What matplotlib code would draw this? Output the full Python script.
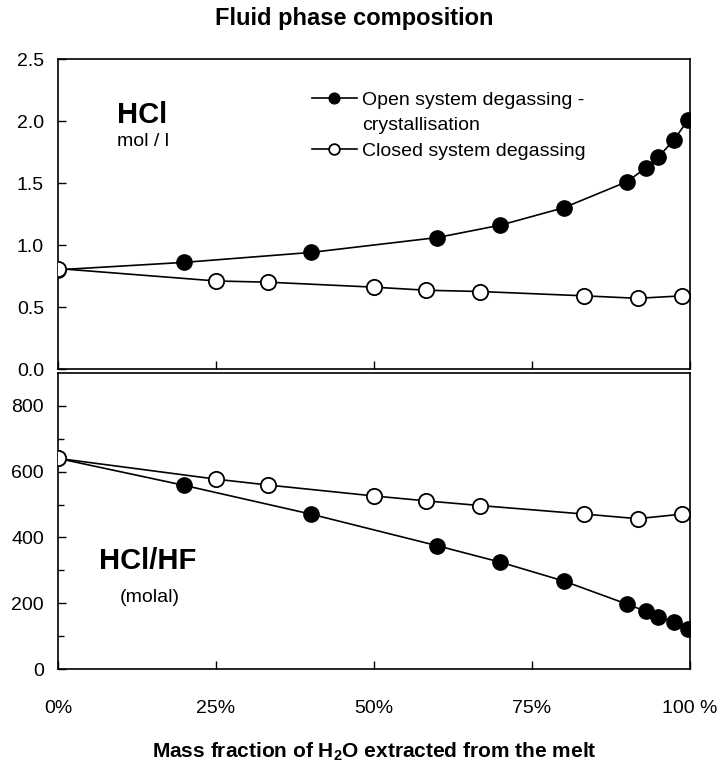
import numpy as np
import matplotlib
matplotlib.use('Agg')
import matplotlib.pyplot as plt
from matplotlib.lines import Line2D

plt.rcParams['font.family'] = ['Liberation Sans', 'DejaVu Sans']
plt.rcParams['mathtext.fontset'] = 'custom'
plt.rcParams['mathtext.rm'] = 'Liberation Sans'
plt.rcParams['mathtext.bf'] = 'Liberation Sans:bold'

# open system degassing - crystallisation (filled circles)
x_open = [0, 20, 40, 60, 70, 80, 90, 93, 95, 97.5, 99.7]
hcl_open = [0.80, 0.86, 0.94, 1.06, 1.16, 1.30, 1.51, 1.62, 1.71, 1.85, 2.01]
ratio_open = [640, 558, 471, 375, 325, 268, 198, 176, 160, 143, 121]

# closed system degassing (open circles)
x_closed = [0, 25, 33.3, 50, 58.3, 66.7, 83.3, 91.7, 98.8]
hcl_closed = [0.81, 0.71, 0.70, 0.66, 0.635, 0.625, 0.59, 0.57, 0.59]
ratio_closed = [640, 577, 559, 526, 511, 497, 471, 457, 471]

xticks = [0, 25, 50, 75, 100]
xticklabels = ['0%', '25%', '50%', '75%', '100 %']

W, H = 722, 770
fig = plt.figure(figsize=(W / 100, H / 100), dpi=100)
left, right = 58 / W, 690 / W
ax1 = fig.add_axes([left, 1 - 369 / H, right - left, (369 - 59) / H])
ax2 = fig.add_axes([left, 1 - 669.3 / H, right - left, (669.3 - 372.7) / H])

def px(x, y):
    return x / W, 1 - y / H

ms = 11
handles = []
for ax, yo, yc in [(ax1, hcl_open, hcl_closed), (ax2, ratio_open, ratio_closed)]:
    h1, = ax.plot(x_open, yo, '-o', color='black', lw=1.2, ms=ms, mfc='black', mec='black',
                  zorder=3)
    h2, = ax.plot(x_closed, yc, '-o', color='black', lw=1.2, ms=ms, mfc='white', mec='black',
                  mew=1.3, zorder=4)
    handles.append((h1, h2))
    ax.set_xlim(0, 100)
    ax.set_xticks(xticks)
    ax.tick_params(direction='in', length=6, width=1, labelsize=14)
    ax.tick_params(axis='x', which='both', top=False)
    ax.tick_params(axis='y', pad=10)
    for s in ax.spines.values():
        s.set_linewidth(1.2)

ax1.set_ylim(0, 2.5)
ax1.set_yticks(np.arange(0, 2.51, 0.5))
ax1.set_yticklabels(['%.1f' % v for v in np.arange(0, 2.51, 0.5)])
ax1.set_xticklabels([])

ax2.set_ylim(0, 900)
ax2.set_yticks([0, 200, 400, 600, 800])
ax2.set_yticks([100, 300, 500, 700], minor=True)
ax2.tick_params(which='minor', direction='in', length=4, width=1)
ax2.set_xticklabels(xticklabels)
ax2.tick_params(axis='x', pad=22)

# blank handle so the second line of the first label sits on its own row
blank = Line2D([], [], linestyle='none', marker='none')
h_open, h_closed = handles[0]
leg = ax1.legend([h_open, blank, h_closed],
                 ['Open system degassing -', 'crystallisation', 'Closed system degassing'],
                 loc='upper left', bbox_to_anchor=px(312, 91), bbox_transform=fig.transFigure,
                 frameon=False, fontsize=14, markerscale=0.7, handlelength=2.3,
                 handletextpad=0.26, labelspacing=0.42, borderaxespad=0, borderpad=0)

fig.text(*px(142, 115), 'HCl', fontsize=21, fontweight='bold', ha='center', va='center')
fig.text(*px(143, 142), 'mol / l', fontsize=14, ha='center', va='center')
fig.text(*px(148, 561), 'HCl/HF', fontsize=21, fontweight='bold', ha='center', va='center')
fig.text(*px(150, 598), '(molal)', fontsize=14, ha='center', va='center')

fig.text(*px(354, 18), 'Fluid phase composition', fontsize=17,
         fontweight='bold', ha='center', va='center')
fig.text(*px(374, 752),
         r'Mass fraction of H$_\mathbf{2}$O extracted from the melt', fontsize=15,
         fontweight='bold', ha='center', va='center')

fig.savefig('out.png', dpi=100)
